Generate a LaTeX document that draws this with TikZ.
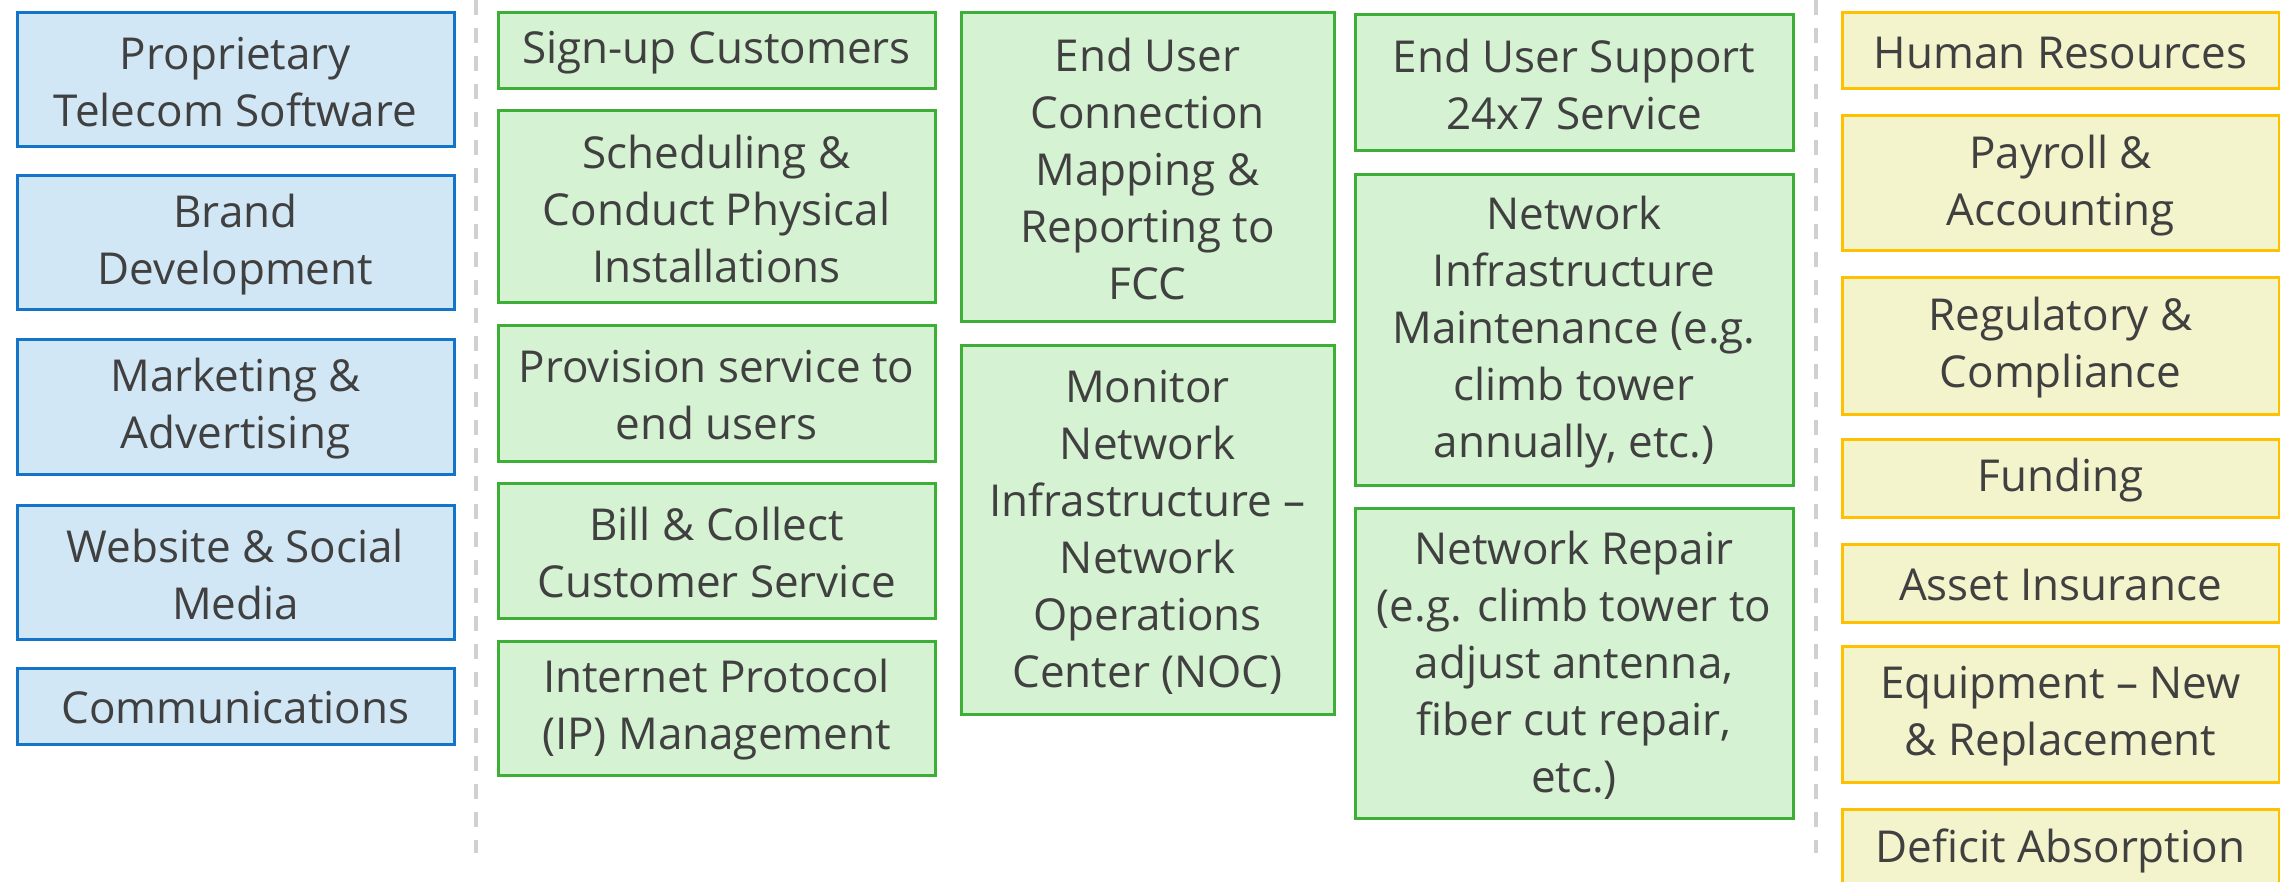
\documentclass[tikz,border=0pt]{standalone}
\usepackage{fontspec}
\setmainfont{Open Sans}
\definecolor{txt}{HTML}{404040}
\definecolor{bfill}{HTML}{D2E7F5}
\definecolor{bdraw}{HTML}{1474C8}
\definecolor{gfill}{HTML}{D5F2D2}
\definecolor{gdraw}{HTML}{3DAF36}
\definecolor{yfill}{HTML}{F3F4CC}
\definecolor{ydraw}{HTML}{FFC000}
\definecolor{dash}{HTML}{D0D0D0}
\tikzset{
  box/.style={line width=3pt, inner sep=0pt, anchor=north west},
  bluebox/.style={box, draw=bdraw, fill=bfill},
  greenbox/.style={box, draw=gdraw, fill=gfill},
  yellowbox/.style={box, draw=ydraw, fill=yfill},
  lbl/.style={align=center, inner sep=0pt, text=txt, font=\fontsize{44}{57}\selectfont},
  sep/.style={draw=dash, line width=4pt, dash pattern=on 15pt off 13pt},
}
% style, name, x, y, width, height, text
\newcommand\mybox[7]{%
  \node[#1, minimum width=#5pt, minimum height=#6pt] (#2) at (#3,#4) {};
  \node[lbl] (#2t) at ([yshift=-2pt]#2.center) {#7};}
\begin{document}
\begin{tikzpicture}[x=1pt,y=-1pt]
\fill[white] (0,0) rectangle (2280,882);
\useasboundingbox (0,0) rectangle (2280,882);
\clip (0,0) rectangle (2280,882);
% blue column
\mybox{bluebox}{b1}{15.5}{11.5}{437}{134}{Proprietary\\Telecom Software}
\mybox{bluebox}{b2}{15.5}{174.5}{437}{134}{Brand\\Development}
\mybox{bluebox}{b3}{15.5}{338.5}{437}{134}{Marketing \&\\Advertising}
\mybox{bluebox}{b4}{15.5}{503.5}{437}{134}{Website \& Social\\Media}
\mybox{bluebox}{b5}{15.5}{666.5}{437}{76}{Communications}
% separators
\coordinate (s1a) at (476,0);
\coordinate (s1b) at (476,853);
\coordinate (s2a) at (1816,0);
\coordinate (s2b) at (1816,853);
\draw[sep] (s1a) -- (s1b);
\draw[sep] (s2a) -- (s2b);
% green column 1
\mybox{greenbox}{g1}{496.5}{11.5}{437}{76}{Sign-up Customers}
\mybox{greenbox}{g2}{496.5}{109.5}{437}{192}{Scheduling \&\\Conduct Physical\\Installations}
\mybox{greenbox}{g3}{496.5}{324.5}{437}{135}{Provision service to\\end users}
\mybox{greenbox}{g4}{496.5}{481.5}{437}{135}{Bill \& Collect\\Customer Service}
\mybox{greenbox}{g5}{496.5}{639.5}{437}{134}{Internet Protocol\\(IP) Management}
% green column 2
\mybox{greenbox}{g6}{959.5}{11.5}{373}{309}{End User\\Connection\\Mapping \&\\Reporting to\\FCC}
\mybox{greenbox}{g7}{959.5}{344.5}{373}{368}{Monitor\\Network\\Infrastructure –\\Network\\Operations\\Center (NOC)}
% green column 3
\mybox{greenbox}{g8}{1353.5}{13.5}{438}{136}{End User Support\\24x7 Service}
\mybox{greenbox}{g9}{1353.5}{173.5}{438}{310}{Network\\Infrastructure\\Maintenance (e.g.\\climb tower\\annually, etc.)}
\mybox{greenbox}{g10}{1353.5}{506.5}{438}{310}{Network Repair\\(e.g. climb tower to\\adjust antenna,\\fiber cut repair,\\etc.)}
% yellow column
\mybox{yellowbox}{y1}{1840.5}{11.5}{437}{76}{Human Resources}
\mybox{yellowbox}{y2}{1840.5}{114.5}{437}{135}{Payroll \&\\Accounting}
\mybox{yellowbox}{y3}{1840.5}{276.5}{437}{136}{Regulatory \&\\Compliance}
\mybox{yellowbox}{y4}{1840.5}{437.5}{437}{78}{Funding}
\mybox{yellowbox}{y5}{1840.5}{542.5}{437}{78}{Asset Insurance}
\mybox{yellowbox}{y6}{1840.5}{644.5}{437}{136}{Equipment – New\\\& Replacement}
\mybox{yellowbox}{y7}{1840.5}{807.5}{437}{80}{Deficit Absorption}
\end{tikzpicture}
\end{document}
